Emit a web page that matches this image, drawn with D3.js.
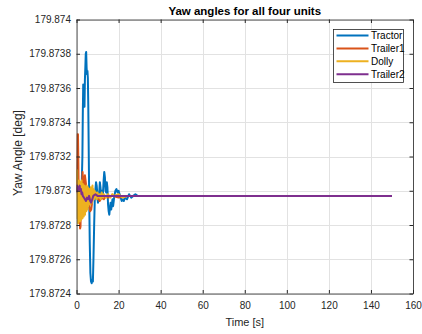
<!DOCTYPE html>
<html>
<head>
<meta charset="utf-8">
<script src="https://cdn.jsdelivr.net/npm/d3@7"></script>
<style>
  html, body { margin: 0; padding: 0; background: #fff; }
  svg { display: block; font-family: "Liberation Sans", Arial, sans-serif; }
</style>
</head>
<body>
<svg id="chart" width="422" height="334"></svg>
<script>
// Yaw angle histories of the four vehicle units [deg] vs time [s]
const seriesNames = ["Tractor", "Trailer1", "Dolly", "Trailer2"];
const seriesColors = ["#0072BD", "#D95319", "#EDB120", "#7E2F8E"];

const tractorTime = [0, 0.5, 1.0, 1.5, 2.0, 2.5, 2.8, 3.0, 3.2, 3.4, 3.6, 3.8, 4.0, 4.2, 4.4, 4.6, 4.8, 5.0, 5.2, 5.4, 5.6, 5.8, 6.0, 6.3, 6.6, 6.9, 7.2, 7.5, 7.8, 8.1, 8.4, 8.7, 9.0, 9.3, 9.6, 9.9, 10.2, 10.5, 10.8, 11.1, 11.4, 11.7, 12.0, 12.3, 12.6, 12.9, 13.2, 13.5, 13.8, 14.1, 14.4, 14.7, 15.0, 15.3, 15.6, 15.9, 16.2, 16.5, 16.8, 17.1, 17.4, 17.7, 18.0, 18.5, 19.0, 19.5, 20.0, 20.5, 21, 21.5, 22, 22.5, 23, 24, 25, 26, 27, 28, 29, 30, 150];
const tractorYaw = [179.87300, 179.87302, 179.87298, 179.87301, 179.87298, 179.87304, 179.87320, 179.87345, 179.87362, 179.87350, 179.87356, 179.87349, 179.87365, 179.87372, 179.87380, 179.87381, 179.87372, 179.87368, 179.87370, 179.87366, 179.87350, 179.87325, 179.87300, 179.87270, 179.87252, 179.87247, 179.87246, 179.87248, 179.87247, 179.87262, 179.87280, 179.87295, 179.87301, 179.87305, 179.87303, 179.87298, 179.87293, 179.87295, 179.87299, 179.87305, 179.87302, 179.87297, 179.87300, 179.87296, 179.87299, 179.87306, 179.87311, 179.87308, 179.87300, 179.87299, 179.87305, 179.87302, 179.87292, 179.87288, 179.87286, 179.87290, 179.87293, 179.87289, 179.87292, 179.87295, 179.87291, 179.87294, 179.87297, 179.87300, 179.87301, 179.87299, 179.87300, 179.87298, 179.87296, 179.87294, 179.87295, 179.87294, 179.87296, 179.87295, 179.87298, 179.87296, 179.87297, 179.87298, 179.87297, 179.87297, 179.87297];

const trailer1Time = [0, 0.3, 0.5, 0.7, 0.9, 1.1, 1.3, 1.5, 1.7, 1.9, 2.1, 2.3, 2.5, 2.7, 2.9, 3.1, 3.3, 3.5, 3.7, 4.0, 4.3, 4.6, 5.0, 5.5, 6.0, 6.5, 7.0, 7.5, 8.0, 8.5, 9, 10, 11, 12, 13, 14, 15, 17, 20, 25, 150];
const trailer1Yaw = [179.87300, 179.87318, 179.87333, 179.87333, 179.87315, 179.87290, 179.87300, 179.87285, 179.87278, 179.87279, 179.87292, 179.87300, 179.87290, 179.87305, 179.87311, 179.87305, 179.87308, 179.87303, 179.87306, 179.87309, 179.87306, 179.87303, 179.87300, 179.87295, 179.87291, 179.87288, 179.87289, 179.87294, 179.87298, 179.87299, 179.87297, 179.87296, 179.87294, 179.87296, 179.87295, 179.87297, 179.87296, 179.87297, 179.87296, 179.87297, 179.87297];

const dollyTime = [0.0, 0.15, 0.3, 0.45, 0.6, 0.75, 0.9, 1.05, 1.2, 1.35, 1.5, 1.65, 1.8, 1.95, 2.1, 2.25, 2.4, 2.55, 2.7, 2.85, 3.0, 3.15, 3.3, 3.45, 3.6, 3.75, 3.9, 4.05, 4.2, 4.35, 4.5, 4.65, 4.8, 4.95, 5.1, 5.25, 5.4, 5.55, 5.7, 5.85, 6.0, 6.2, 6.4, 6.6, 6.8, 7.0, 7.2, 7.4, 7.6, 7.8, 8.0, 8.3, 8.6, 8.9, 9.2, 9.6, 10.0, 10.5, 11, 11.5, 12, 12.5, 13, 14, 15, 16, 17, 18, 20, 22, 24, 150];
const dollyYaw = [179.87298, 179.87308, 179.87312, 179.87284, 179.87303, 179.87281, 179.87300, 179.87283, 179.87306, 179.87286, 179.87303, 179.87282, 179.87305, 179.87285, 179.87302, 179.87283, 179.87306, 179.87287, 179.87301, 179.87284, 179.87304, 179.87286, 179.87300, 179.87285, 179.87303, 179.87288, 179.87301, 179.87286, 179.87302, 179.87289, 179.87300, 179.87288, 179.87303, 179.87290, 179.87301, 179.87289, 179.87302, 179.87291, 179.87300, 179.87292, 179.87301, 179.87293, 179.87299, 179.87292, 179.87302, 179.87294, 179.87300, 179.87293, 179.87303, 179.87295, 179.87301, 179.87295, 179.87300, 179.87296, 179.87299, 179.87295, 179.87299, 179.87296, 179.87298, 179.87295, 179.87299, 179.87296, 179.87298, 179.87296, 179.87298, 179.87296, 179.87298, 179.87297, 179.87298, 179.87296, 179.87297, 179.87297];

const trailer2Time = [0, 0.3, 0.6, 0.9, 1.2, 1.5, 1.8, 2.1, 2.4, 2.7, 3.0, 3.5, 4.0, 4.5, 5.0, 5.5, 6.0, 6.5, 7.0, 7.5, 8.0, 9, 10, 12, 150];
const trailer2Yaw = [179.87299, 179.87303, 179.87300, 179.87302, 179.87301, 179.87303, 179.87300, 179.87301, 179.87298, 179.87299, 179.87297, 179.87296, 179.87295, 179.87294, 179.87296, 179.87295, 179.87297, 179.87294, 179.87293, 179.87295, 179.87297, 179.87298, 179.87297, 179.87297, 179.87297];

const xTicks = [0, 20, 40, 60, 80, 100, 120, 140, 160];
const yTicks = [179.8724, 179.8726, 179.8728, 179.873, 179.8732, 179.8734, 179.8736, 179.8738, 179.874];
const yTickLabels = ["179.8724", "179.8726", "179.8728", "179.873", "179.8732", "179.8734", "179.8736", "179.8738", "179.874"];

const titleText = "Yaw angles for all four units";
const xLabel = "Time [s]";
const yLabel = "Yaw Angle [deg]";

// ---- layout ----
const svg = d3.select("#chart");
const plot = { left: 76.5, right: 413, top: 19.5, bottom: 293.5 };
const axisColor = "#262626";

const x = d3.scaleLinear().domain([0, 160]).range([plot.left, plot.right]);
const y = d3.scaleLinear().domain([179.8724, 179.874]).range([plot.bottom, plot.top]);

// plot background
svg.append("rect")
  .attr("x", plot.left).attr("y", plot.top)
  .attr("width", plot.right - plot.left).attr("height", plot.bottom - plot.top)
  .attr("fill", "#fff");

// grid
const grid = svg.append("g").attr("stroke", "#e2e2e2").attr("stroke-width", 1);
grid.selectAll("line.gx").data(xTicks).join("line")
  .attr("x1", d => Math.round(x(d)) + 0.5).attr("x2", d => Math.round(x(d)) + 0.5)
  .attr("y1", plot.top).attr("y2", plot.bottom);
grid.selectAll("line.gy").data(yTicks).join("line")
  .attr("y1", d => Math.round(y(d)) + 0.5).attr("y2", d => Math.round(y(d)) + 0.5)
  .attr("x1", plot.left).attr("x2", plot.right);

// data lines
svg.append("clipPath").attr("id", "clip").append("rect")
  .attr("x", plot.left).attr("y", plot.top)
  .attr("width", plot.right - plot.left).attr("height", plot.bottom - plot.top);

const series = [
  { t: tractorTime, v: tractorYaw },
  { t: trailer1Time, v: trailer1Yaw },
  { t: dollyTime, v: dollyYaw },
  { t: trailer2Time, v: trailer2Yaw }
];

const line = d3.line().x(d => x(d[0])).y(d => y(d[1]));
const lines = svg.append("g").attr("clip-path", "url(#clip)");
series.forEach((s, i) => {
  const pts = s.t.map((t, k) => [t, s.v[k]]);
  lines.append("path")
    .datum(pts)
    .attr("fill", "none")
    .attr("stroke", seriesColors[i])
    .attr("stroke-width", 2)
    .attr("stroke-linejoin", "round")
    .attr("d", line);
});

// axes (ticks pointing inwards, box on all sides)
function styleAxis(g) {
  g.select(".domain").attr("stroke", axisColor);
  g.selectAll(".tick line").attr("stroke", axisColor);
  g.selectAll(".tick text").attr("fill", axisColor).attr("font-size", 10)
    .attr("font-family", "'Liberation Sans', Arial, sans-serif");
}

svg.append("g")
  .attr("transform", `translate(0,${plot.bottom})`)
  .call(d3.axisBottom(x).tickValues(xTicks).tickFormat(d3.format("d"))
    .tickSizeInner(-3.5).tickSizeOuter(0).tickPadding(8))
  .call(styleAxis);

svg.append("g")
  .attr("transform", `translate(0,${plot.top})`)
  .call(d3.axisTop(x).tickValues(xTicks).tickFormat("")
    .tickSizeInner(-3.5).tickSizeOuter(0))
  .call(styleAxis);

svg.append("g")
  .attr("transform", `translate(${plot.left},0)`)
  .call(d3.axisLeft(y).tickValues(yTicks).tickFormat((d, i) => yTickLabels[i])
    .tickSizeInner(-3.5).tickSizeOuter(0).tickPadding(5.5))
  .call(styleAxis);

svg.append("g")
  .attr("transform", `translate(${plot.right},0)`)
  .call(d3.axisRight(y).tickValues(yTicks).tickFormat("")
    .tickSizeInner(-3.5).tickSizeOuter(0))
  .call(styleAxis);

svg.selectAll(".domain").attr("stroke-width", 0.8);

// title and axis labels
svg.append("text")
  .attr("x", (plot.left + plot.right) / 2).attr("y", 14.5)
  .attr("text-anchor", "middle").attr("font-size", 11.5).attr("font-weight", "bold")
  .attr("fill", "#000")
  .text(titleText);

svg.append("text")
  .attr("x", (plot.left + plot.right) / 2).attr("y", 325.5)
  .attr("text-anchor", "middle").attr("font-size", 11)
  .attr("fill", axisColor)
  .text(xLabel);

svg.append("text")
  .attr("transform", `translate(21.5,153) rotate(-90)`)
  .attr("text-anchor", "middle").attr("font-size", 12)
  .attr("fill", axisColor)
  .text(yLabel);

// legend
const legend = svg.append("g");
legend.append("rect")
  .attr("x", 333.5).attr("y", 29.5).attr("width", 70).attr("height", 53)
  .attr("fill", "#fff").attr("stroke", axisColor).attr("stroke-width", 0.8);
seriesNames.forEach((name, i) => {
  const ly = 35.5 + i * 12.9;
  legend.append("line")
    .attr("x1", 336.5).attr("x2", 368.5).attr("y1", ly).attr("y2", ly)
    .attr("stroke", seriesColors[i]).attr("stroke-width", 2);
  legend.append("text")
    .attr("x", 371).attr("y", ly).attr("dy", "0.35em")
    .attr("font-size", 10).attr("fill", "#000")
    .text(name);
});
</script>
</body>
</html>
